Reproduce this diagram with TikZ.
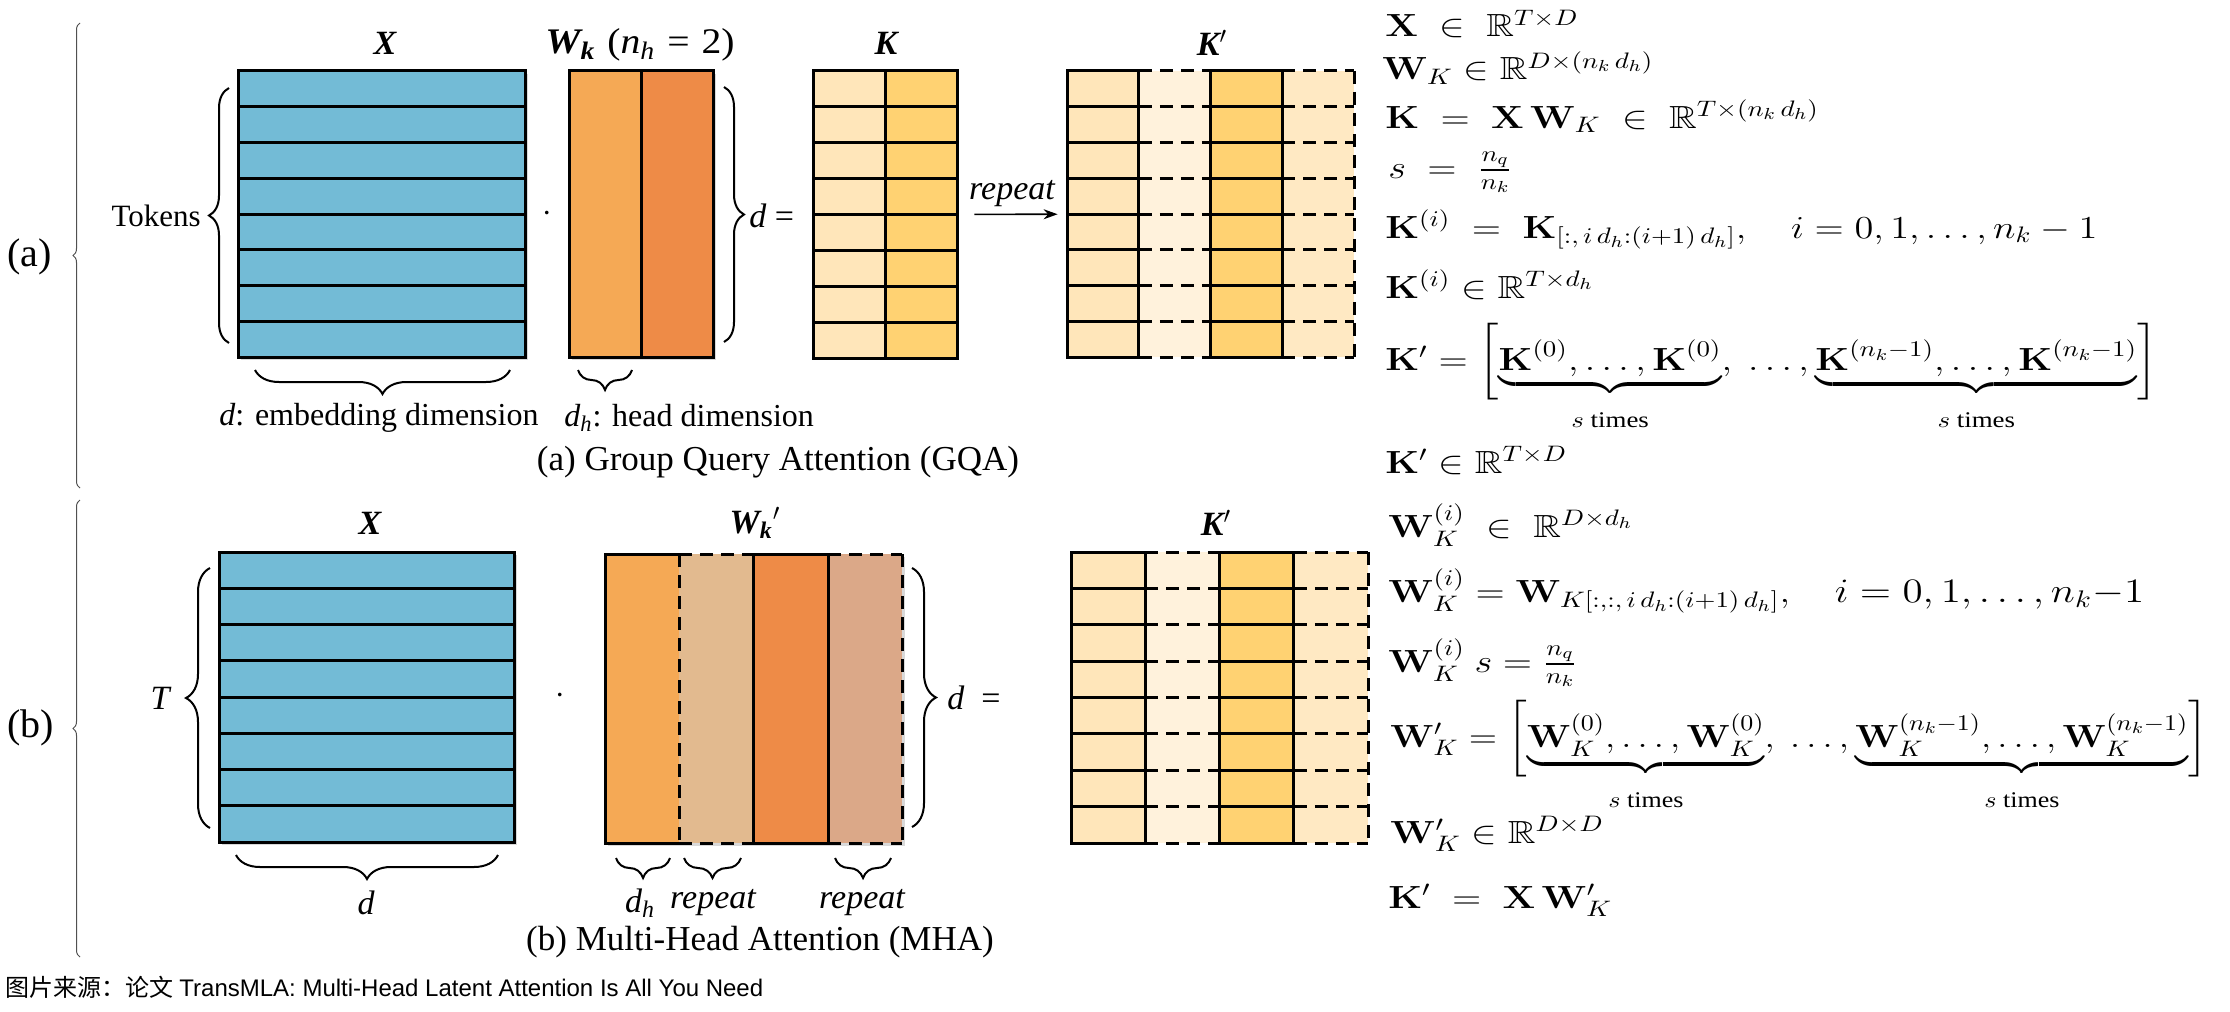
\RequirePackage{fix-cm}
\documentclass[tikz,border=0pt]{standalone}
\usepackage{amsmath,amssymb}
\usepackage[no-math]{fontspec}
\setmainfont{Liberation Serif}
\newfontfamily\cjkfont{Noto Sans CJK SC}
\newfontfamily\sansfont{Liberation Sans}
\usepackage{graphicx}
\usetikzlibrary{decorations.pathreplacing,fit,shadows,arrows.meta}

\definecolor{xblue}{HTML}{73BBD6}
\definecolor{wor}{HTML}{F5A955}
\definecolor{wdk}{HTML}{EE8B47}
\definecolor{wtan}{HTML}{E2BA8F}
\definecolor{wbrn}{HTML}{DBA888}
\definecolor{kone}{HTML}{FFE6BA}
\definecolor{ktwo}{HTML}{FFD272}
\definecolor{kthr}{HTML}{FFF2DC}
\definecolor{kfor}{HTML}{FFE9C3}
\definecolor{bracegray}{HTML}{505050}

\tikzset{
  gridline/.style={line width=1.5pt, black, line cap=rect},
  dashline/.style={line width=1.5pt, black, dash pattern=on 6.5pt off 4pt},
  bigbrace/.style={decorate, decoration={brace, amplitude=#1}, line width=1pt},
  sidebrace/.style={decorate, decoration={brace, amplitude=3.5pt}, line width=0.5pt, bracegray},
  mshadow/.style={drop shadow={shadow xshift=1.3pt, shadow yshift=-1.3pt, opacity=0.3}},
  mlabel/.style={font=\fontsize{17}{20}\selectfont\bfseries\itshape, inner sep=0},
  txt/.style={font=\fontsize{16}{19}\selectfont, inner sep=0},
  captxt/.style={font=\fontsize{17.5}{21}\selectfont, inner sep=0},
  parttxt/.style={font=\fontsize{20}{24}\selectfont, inner sep=0, anchor=west},
  eq/.style={anchor=base west, inner sep=0, font=\fontsize{16}{19}\selectfont},
}
\newcommand\eqs[2][1.2]{\scalebox{#1}[1]{#2}}
\newcommand\irange[2][1.0]{\mbox{\scalebox{#1}{$#2$}}}
\newcommand\stimes{\rule{0pt}{15pt}s\text{ times}}

% K' matrix: x0 y0 w h name
\newcommand\kpmat[5]{%
 \pgfmathsetmacro\cw{#3/4}\pgfmathsetmacro\rh{#4/8}%
 \fill[kone] (#1,#2) rectangle ++(\cw,#4);
 \fill[kthr] ({#1+\cw},#2) rectangle ++(\cw,#4);
 \fill[ktwo] ({#1+2*\cw},#2) rectangle ++(\cw,#4);
 \fill[kfor] ({#1+3*\cw},#2) rectangle ++(\cw,#4);
 \foreach \r in {0,...,8} {
   \draw[gridline] (#1,{#2+\r*\rh}) -- ++(\cw,0);
   \draw[dashline] ({#1+\cw},{#2+\r*\rh}) -- ++(\cw,0);
   \draw[gridline] ({#1+2*\cw},{#2+\r*\rh}) -- ++(\cw,0);
   \draw[dashline] ({#1+3*\cw},{#2+\r*\rh}) -- ++(\cw,0);
 }
 \foreach \c in {0,1,2,3} {\draw[gridline] ({#1+\c*\cw},#2) -- ++(0,#4);}
 \draw[dashline] ({#1+#3},#2) -- ++(0,#4);
 \node[fit={(#1,#2) ({#1+#3},{#2+#4})}, inner sep=0] (#5) {};
}
% 7 internal row lines: x0 y0 w h
\newcommand\hrows[4]{%
 \foreach \r in {1,...,7} {\draw[gridline] (#1,{#2+\r*#4/8}) -- ++(#3,0);}
}

\begin{document}
\begin{tikzpicture}[x=0.5pt,y=-0.5pt]
\useasboundingbox (0,0) rectangle (2230,1011);

% ---------- side braces and part labels ----------
\draw[sidebrace] (80,488) -- (80,23);
\draw[sidebrace] (80,957) -- (80,500);
\node[parttxt] (pa) at (7,257) {(a)};
\node[parttxt] (pb) at (7,728) {(b)};

% ================= (a) GQA =================
% X
\node[fit={(238,71) (525,357)}, inner sep=0, fill=xblue, mshadow] (Xa) {};
\hrows{238}{71}{287}{286}
\draw[gridline] (238,71) rectangle (525,357);
\node[mlabel] (Xalab) at (385,43) {X};
\draw[bigbrace=10pt] (229,343) -- (229,88);
\node[txt, anchor=east, font=\fontsize{15.5}{18}\selectfont] (tok) at (201,216) {Tokens};
\draw[bigbrace=12pt] (510,370) -- (255,370);
\node[txt, anchor=west] (emb) at (219,418) {\textit{d}: embedding dimension};
\node[txt, font=\fontsize{17}{20}\selectfont] (dota) at (547,214) {$\cdot$};

% W_k
\node[fit={(569,71) (713,357)}, inner sep=0, fill=wor, mshadow] (Wa) {};
\fill[wdk] (641,71) rectangle (713,357);
\draw[gridline] (569,71) rectangle (713,357);
\draw[gridline] (641,71) -- (641,357);
\node[txt, anchor=west, font=\fontsize{18}{21}\selectfont] (Walab) at (545,45)
  {\scalebox{1.1}[1]{{\bfseries\itshape W\textsubscript{k}}\hspace{0.3em}(\textit{n}\textsubscript{\textit{h}}\hspace{0.3em}=\hspace{0.3em}2)}};
\draw[bigbrace=10pt] (632,370) -- (578,370);
\node[txt, anchor=west] (hd) at (564,418) {\textit{d}\textsubscript{\textit{h}}: head dimension};
\draw[bigbrace=10pt] (724,87) -- (724,342);
\node[txt, anchor=west, font=\fontsize{17}{20}\selectfont] (dea) at (749,216) {\textit{d} =};

% K
\node[fit={(813,71) (957,358)}, inner sep=0, fill=kone] (Ka) {};
\fill[ktwo] (885,71) rectangle (957,358);
\hrows{813}{71}{144}{287}
\draw[gridline] (813,71) rectangle (957,358);
\draw[gridline] (885,71) -- (885,358);
\node[mlabel] (Kalab) at (886,43) {K};

% K'
\kpmat{1067}{71}{287}{286}{Kpa}
\node[mlabel] (Kpalab) at (1212,43) {K$'$};

\draw[-{Stealth[length=7pt,width=5pt]}, line width=0.8pt, shorten <=8.5pt, shorten >=4.5pt]
  (Ka) -- node[midway, above=3.5pt, inner sep=0, font=\fontsize{17}{20}\selectfont\itshape] (rep) {repeat} (Kpa);

\node[captxt] (capa) at (778,462) {(a) Group Query Attention (GQA)};

% ================= (b) MHA =================
\node[fit={(219,552) (514,842)}, inner sep=0, fill=xblue, mshadow] (Xb) {};
\hrows{219}{552}{295}{290}
\draw[gridline] (219,552) rectangle (514,842);
\node[mlabel] (Xblab) at (370,523) {X};
\draw[bigbrace=12pt] (210,828) -- (210,568);
\node[txt, font=\fontsize{17}{20}\selectfont\itshape] (Tl) at (160,698) {T};
\draw[bigbrace=12pt] (498,855) -- (236,855);
\node[txt, font=\fontsize{17}{20}\selectfont\itshape] (db) at (366,903) {d};
\node[txt, font=\fontsize{17}{20}\selectfont] (dotb) at (560,696) {$\cdot$};

% W_k'
\node[fit={(605,554) (902,843)}, inner sep=0, mshadow, fill=wor] (Wb) {};
\fill[wor] (605,554) rectangle (679,843);
\fill[wtan] (679,554) rectangle (753,843);
\fill[wdk] (753,554) rectangle (828,843);
\fill[wbrn] (828,554) rectangle (902,843);
\draw[gridline] (605,554) -- (679,554);
\draw[gridline] (605,843) -- (679,843);
\draw[gridline] (753,554) -- (828,554);
\draw[gridline] (753,843) -- (828,843);
\draw[dashline] (679,554) -- (753,554);
\draw[dashline] (679,843) -- (753,843);
\draw[dashline] (828,554) -- (902,554);
\draw[dashline] (828,843) -- (902,843);
\draw[gridline] (605,554) -- (605,843);
\draw[dashline] (679,554) -- (679,843);
\draw[gridline] (753,554) -- (753,843);
\draw[gridline] (828,554) -- (828,843);
\draw[dashline] (902,554) -- (902,843);
\node[mlabel] (Wblab) at (755,523) {W\textsubscript{k}$'$};
\draw[bigbrace=12pt] (912,568) -- (912,827);
\node[txt, anchor=west, font=\fontsize{17}{20}\selectfont] (deb) at (947,698) {\textit{d}\enspace=};
\draw[bigbrace=10pt] (670,858) -- (616,858);
\draw[bigbrace=10pt] (741,858) -- (684,858);
\draw[bigbrace=10pt] (891,858) -- (835,858);
\node[txt, font=\fontsize{17}{20}\selectfont] (dhb) at (640,903) {\textit{d}\textsubscript{\textit{h}}};
\node[txt, font=\fontsize{17}{20}\selectfont\itshape] (rp1) at (713,903) {repeat};
\node[txt, font=\fontsize{17}{20}\selectfont\itshape] (rp2) at (862,903) {repeat};

% K' (b)
\kpmat{1071}{552}{297}{291}{Kpb}
\node[mlabel] (Kpblab) at (1216,523) {K$'$};

\node[captxt] (capb) at (760,942) {(b) Multi-Head Attention (MHA)};

% ================= equations =================
\node[eq] (e1) at (1385,37) {\eqs{$\mathbf{X} \;\in\; \mathbb{R}^{T\times D}$}};
\node[eq] (e2) at (1382,80) {\eqs{$\mathbf{W}_K \in \mathbb{R}^{D\times(n_k\,d_h)}$}};
\node[eq] (e3) at (1385,128) {\eqs{$\mathbf{K} \;=\; \mathbf{X}\,\mathbf{W}_K \;\in\; \mathbb{R}^{T\times(n_k\,d_h)}$}};
\node[eq] (e4) at (1388,178) {\eqs{$s \;=\; \frac{n_q}{n_k}$}};
\node[eq] (e5) at (1385,238) {\eqs{$\mathbf{K}^{(i)} \;=\; \mathbf{K}_{[{:},\,i\,d_h{:}(i+1)\,d_h]}, \quad \irange{i = 0,1,\ldots,n_k-1}$}};
\node[eq] (e6) at (1385,298) {\eqs{$\mathbf{K}^{(i)} \in \mathbb{R}^{T\times d_h}$}};
\node[eq] (e7) at (1385,370) {\eqs{$\mathbf{K}' = \biggl[\underbrace{\mathbf{K}^{(0)},\ldots,\mathbf{K}^{(0)}}_{\stimes},\ \ldots,\underbrace{\mathbf{K}^{(n_k-1)},\ldots,\mathbf{K}^{(n_k-1)}}_{\stimes}\biggr]$}};
\node[eq] (e8) at (1385,473) {\eqs{$\mathbf{K}' \in \mathbb{R}^{T\times D}$}};

\node[eq] (f1) at (1388,537) {\eqs{$\mathbf{W}_K^{(i)} \;\in\; \mathbb{R}^{D\times d_h}$}};
\node[eq] (f2) at (1388,602) {\eqs{$\mathbf{W}_K^{(i)} = \mathbf{W}_{K[{:},{:},\,i\,d_h{:}(i+1)\,d_h]}, \quad \irange[1.07]{i = 0,1,\ldots,n_k{-}1}$}};
\node[eq] (f3) at (1388,672) {\eqs{$\mathbf{W}_K^{(i)}\ s = \frac{n_q}{n_k}$}};
\node[eq] (f4) at (1390,747) {\eqs[1.16]{$\mathbf{W}'_K = \biggl[\underbrace{\mathbf{W}_K^{(0)},\ldots,\mathbf{W}_K^{(0)}}_{\stimes},\ \ldots,\underbrace{\mathbf{W}_K^{(n_k-1)},\ldots,\mathbf{W}_K^{(n_k-1)}}_{\stimes}\biggr]$}};
\node[eq] (f5) at (1390,843) {\eqs{$\mathbf{W}'_K \in \mathbb{R}^{D\times D}$}};
\node[eq] (f6) at (1388,908) {\eqs{$\mathbf{K}' \;=\; \mathbf{X}\,\mathbf{W}'_K$}};

% ================= source line =================
\node[anchor=west, inner sep=0, font=\fontsize{12}{14}\selectfont] (src) at (5,987)
  {{\cjkfont 图片来源：论文} {\sansfont TransMLA: Multi-Head Latent Attention Is All You Need}};
\end{tikzpicture}
\end{document}
